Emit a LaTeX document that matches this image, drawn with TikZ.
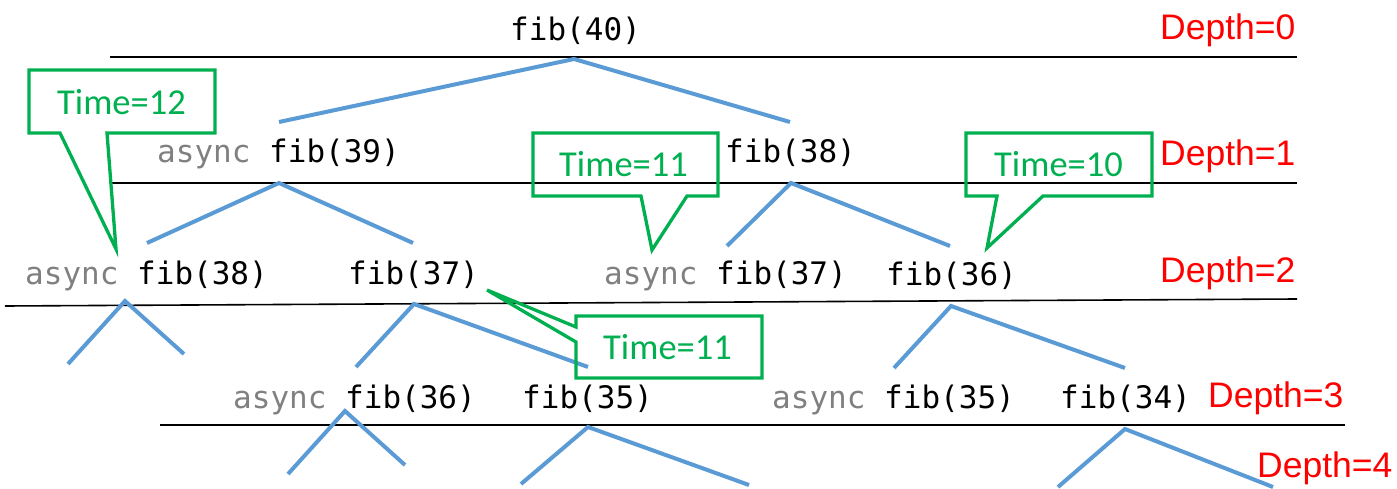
\documentclass[tikz,border=0pt]{standalone}
\usepackage{fontspec}
\newfontfamily\codefont{DejaVu Sans Mono}
\newfontfamily\depthfont{Liberation Sans}
\newfontfamily\notefont{Carlito}
\definecolor{treeblue}{RGB}{91,155,213}
\definecolor{notegreen}{RGB}{0,176,80}
\definecolor{kwgray}{RGB}{128,128,128}
\tikzset{
  call/.style={anchor=base west, inner sep=0pt, font=\codefont\fontsize{31}{31}\selectfont},
  depthlbl/.style={anchor=base west, inner sep=0pt, text=red, font=\depthfont\fontsize{35.5}{35.5}\selectfont},
  timelbl/.style={anchor=base west, inner sep=0pt, text=notegreen, font=\notefont\fontsize{36.5}{36.5}\selectfont},
  level/.style={draw=black, line width=1.6pt},
  branch/.style={draw=treeblue, line width=4pt},
  bubble/.style={draw=notegreen, line width=3.3pt, line join=miter},
}
\newcommand{\kw}[1]{\textcolor{kwgray}{#1}}
\begin{document}
\begin{tikzpicture}[x=1pt, y=-1pt]
\useasboundingbox (0,0) rectangle (1397,489);

% level separators
\coordinate (s0a) at (110,57);  \coordinate (s0b) at (1297,57);
\coordinate (s1a) at (112,183); \coordinate (s1b) at (1297,183);
\coordinate (s2a) at (5,306);   \coordinate (s2b) at (1297,299);
\coordinate (s3a) at (160,425); \coordinate (s3b) at (1345,425);
\draw[level] (s0a) -- (s0b);
\draw[level] (s1a) -- (s1b);
\draw[level] (s2a) -- (s2b);
\draw[level] (s3a) -- (s3b);

% calls
\node[call] (f40)  at (510,41)  {fib(40)};
\node[call] (f39)  at (157,163) {\kw{async} fib(39)};
\node[call] (f38a) at (725,163) {fib(38)};
\node[call] (f38b) at (25,284)  {\kw{async} fib(38)};
\node[call] (f37a) at (348,284) {fib(37)};
\node[call] (f37b) at (604,284) {\kw{async} fib(37)};
\node[call] (f36a) at (886,285) {fib(36)};
\node[call] (f36b) at (233,408) {\kw{async} fib(36)};
\node[call] (f35a) at (522,408) {fib(35)};
\node[call] (f35b) at (772,408) {\kw{async} fib(35)};
\node[call] (f34)  at (1060,408) {fib(34)};

% depth labels
\node[depthlbl] (d0) at (1160,40)  {Depth=0};
\node[depthlbl] (d1) at (1160,166) {Depth=1};
\node[depthlbl] (d2) at (1160,282) {Depth=2};
\node[depthlbl] (d3) at (1208,407) {Depth=3};
\node[depthlbl] (d4) at (1257,477) {Depth=4};

% tree branches
\coordinate (r0) at (574,59);   \coordinate (r0l) at (279,122); \coordinate (r0r) at (790,122);
\coordinate (a39) at (279,183); \coordinate (a39l) at (147,243); \coordinate (a39r) at (413,243);
\coordinate (a38) at (791,183); \coordinate (a38l) at (727,246); \coordinate (a38r) at (950,246);
\coordinate (b38) at (125,301); \coordinate (b38l) at (68,364);  \coordinate (b38r) at (184,354);
\coordinate (b37) at (414,304); \coordinate (b37l) at (356,367); \coordinate (b37r) at (588,367);
\coordinate (b36) at (951,306); \coordinate (b36l) at (894,368); \coordinate (b36r) at (1125,368);
\coordinate (c36) at (345,411); \coordinate (c36l) at (288,474); \coordinate (c36r) at (405,465);
\coordinate (c35) at (588,427); \coordinate (c35l) at (521,484); \coordinate (c35r) at (749,485);
\coordinate (c34) at (1125,429);\coordinate (c34l) at (1058,487);\coordinate (c34r) at (1273,487);
\foreach \p in {r0,a39,a38,b38,b37,b36,c36,c35,c34}
  \draw[branch] (\p l) -- (\p) -- (\p r);

% time notes
\node[timelbl] (t12)  at (57,115)  {Time=12};
\node[timelbl] (t11a) at (559,177) {Time=11};
\node[timelbl] (t10)  at (994,177) {Time=10};
\node[timelbl] (t11b) at (603,359) {Time=11};

\draw[bubble] (29,70) -- (215,70) -- (215,133) -- (107,133) -- (116,249) -- (60,133) -- (29,133) -- cycle;
\draw[bubble] (533,133) -- (718,133) -- (718,196) -- (687,196) -- (652,250) -- (641,196) -- (533,196) -- cycle;
\draw[bubble] (966,133) -- (1152,133) -- (1152,196) -- (1043,196) -- (987,248) -- (997,196) -- (966,196) -- cycle;
\draw[bubble] (576,316) -- (762,316) -- (762,378) -- (576,378) -- (576,342) -- (487,290) -- (576,327) -- cycle;
\end{tikzpicture}
\end{document}
